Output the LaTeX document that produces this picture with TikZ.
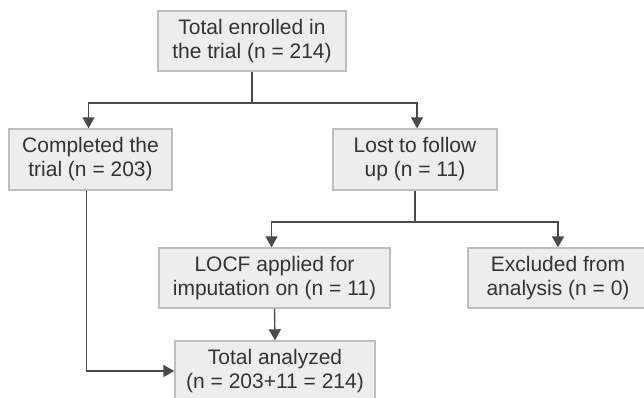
\documentclass[tikz,border=0pt]{standalone}
\usepackage{fontspec}
\setmainfont{Liberation Sans}
\usetikzlibrary{arrows.meta}
\definecolor{boxfill}{HTML}{EDEDED}
\definecolor{boxline}{HTML}{BEBEBE}
\definecolor{linecol}{HTML}{4A4A4A}
\definecolor{txtcol}{HTML}{333333}
\tikzset{
  flowbox/.style={draw=boxline, fill=boxfill, line width=1.4pt, align=center,
    text=txtcol, font=\fontsize{21}{24}\selectfont, inner sep=0pt},
  conn/.style={draw=linecol, line width=1.4pt},
  arr/.style={conn, -{Triangle[width=12pt,length=11pt]}},
}
\begin{document}
\begin{tikzpicture}[x=1pt,y=-1pt]
\useasboundingbox (0,0) rectangle (644,398);
\clip (0,0) rectangle (644,398);
\fill[white] (0,0) rectangle (644,398);
\node[flowbox, minimum width=188pt, minimum height=60pt] (top) at (252,41) {Total enrolled in\\the trial (n = 214)};
\node[flowbox, minimum width=163pt, minimum height=61pt] (comp) at (90.5,159.5) {Completed the\\trial (n = 203)};
\node[flowbox, minimum width=164pt, minimum height=61pt] (lost) at (415,159.5) {Lost to follow\\up (n = 11)};
\node[flowbox, minimum width=231pt, minimum height=60pt] (locf) at (274.5,278) {LOCF applied for\\imputation on (n = 11)};
\node[flowbox, minimum width=180pt, minimum height=60pt] (excl) at (558,278) {Excluded from\\analysis (n = 0)};
\node[flowbox, minimum width=200pt, minimum height=60pt] (tot) at (275,371) {Total analyzed\\(n = 203+11 = 214)};
\coordinate (j1) at (252,103);
\coordinate (j2) at (415,222);
\draw[conn] (top.south) -- (j1);
\draw[arr] (j1) -| ([xshift=-2pt]comp.north);
\draw[arr] (j1) -| ([xshift=2pt]lost.north);
\draw[conn] (lost.south) -- (j2);
\draw[arr] (j2) -| ([xshift=-3pt]locf.north);
\draw[arr] (j2) -| (excl.north);
\draw[arr] (locf.south) -- (tot.north);
\draw[arr] ([xshift=-4pt]comp.south) |- (tot.west);
\end{tikzpicture}
\end{document}
